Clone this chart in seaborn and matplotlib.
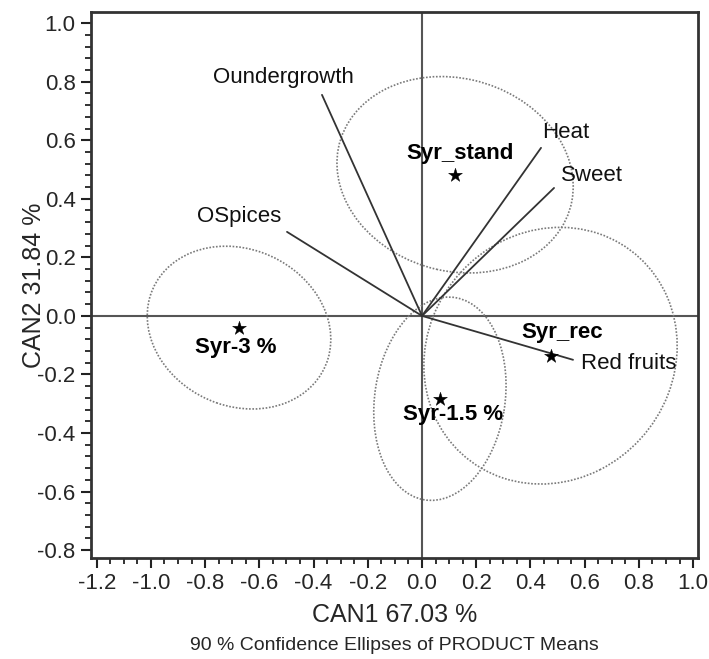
import matplotlib
matplotlib.use("Agg")
import matplotlib.pyplot as plt
from matplotlib.patches import Ellipse
from matplotlib.ticker import MultipleLocator
import seaborn as sns
import pandas as pd

# Product means (canonical scores)
products = ["Syr_stand", "Syr_rec", "Syr-3 %", "Syr-1.5 %"]
prod_x = [0.122, 0.474, -0.675, 0.066]
prod_y = [0.482, -0.136, -0.040, -0.283]

# 90 % confidence ellipses (semi-axes in data units, angle in degrees)
ell_major = [0.440, 0.475, 0.345, 0.350]
ell_minor = [0.330, 0.430, 0.270, 0.240]
ell_angle = [-12, 25, -18, 80]

# Product label anchor positions
plabel_x = [0.140, 0.517, -0.686, 0.113]
plabel_y = [0.553, -0.058, -0.109, -0.338]

# Attribute vectors
attributes = ["Oundergrowth", "OSpices", "Heat", "Sweet", "Red fruits"]
attr_x = [-0.369, -0.498, 0.439, 0.487, 0.557]
attr_y = [0.755, 0.287, 0.574, 0.437, -0.150]
alabel_x = [-0.771, -0.830, 0.443, 0.513, 0.587]
alabel_y = [0.813, 0.338, 0.625, 0.478, -0.161]

xticks = [-1.2, -1.0, -0.8, -0.6, -0.4, -0.2, 0.0, 0.2, 0.4, 0.6, 0.8, 1.0]
yticks = [-0.8, -0.6, -0.4, -0.2, 0.0, 0.2, 0.4, 0.6, 0.8, 1.0]

sns.set_theme(style="white")
plt.rcParams["font.family"] = ["Liberation Sans", "DejaVu Sans"]

fig = plt.figure(figsize=(7.09, 6.59), dpi=100)
ax = fig.add_axes([91 / 709, 1 - 558 / 659, (698 - 91) / 709, (558 - 12) / 659])

ax.set_xlim(-1.221, 1.018)
ax.set_ylim(-0.827, 1.038)

ax.axhline(0, color="#555555", lw=1.5, zorder=1)
ax.axvline(0, color="#555555", lw=1.5, zorder=1)

for cx, cy, a, b, ang in zip(prod_x, prod_y, ell_major, ell_minor, ell_angle):
    e = Ellipse((cx, cy), width=2 * a, height=2 * b, angle=ang, fill=False,
                edgecolor="#7a7a7a", lw=1.2, linestyle=(0, (1, 1)), zorder=2)
    ax.add_patch(e)

for ex, ey in zip(attr_x, attr_y):
    ax.plot([0, ex], [0, ey], color="#333333", lw=1.3, zorder=3)

df = pd.DataFrame({"x": prod_x, "y": prod_y, "product": products})
sns.scatterplot(data=df, x="x", y="y", marker="*", s=110, color="black",
                edgecolor="black", linewidth=0.3, ax=ax, zorder=4, legend=False)

for name, tx, ty in zip(attributes, alabel_x, alabel_y):
    ax.text(tx, ty, name, fontsize=16, ha="left", va="center", color="#111111")

for name, tx, ty in zip(products, plabel_x, plabel_y):
    ax.text(tx, ty, name, fontsize=16, fontweight="bold", ha="center",
            va="center", color="black")

ax.set_xticks(xticks)
ax.set_yticks(yticks)
ax.set_xticklabels([f"{v:.1f}" for v in xticks])
ax.set_yticklabels([f"{v:.1f}" for v in yticks])
ax.xaxis.set_minor_locator(MultipleLocator(0.05))
ax.yaxis.set_minor_locator(MultipleLocator(0.04))
ax.tick_params(axis="both", which="major", direction="out", length=7, width=1.5,
               color="#222222", labelsize=16, pad=4, bottom=True, left=True)
ax.tick_params(axis="both", which="minor", direction="out", length=4, width=1.3,
               color="#222222", bottom=True, left=True)

for sp in ax.spines.values():
    sp.set_color("#333333")
    sp.set_linewidth(2)

ax.set_xlabel("CAN1 67.03 %", fontsize=18, labelpad=6)
ax.set_ylabel("CAN2 31.84 %", fontsize=18, labelpad=-6)

fig.text(0.5 * (91 + 698) / 709, 1 - 645 / 659,
         "90 % Confidence Ellipses of PRODUCT Means",
         fontsize=14, ha="center", va="center")

fig.savefig("out.png", dpi=100)
